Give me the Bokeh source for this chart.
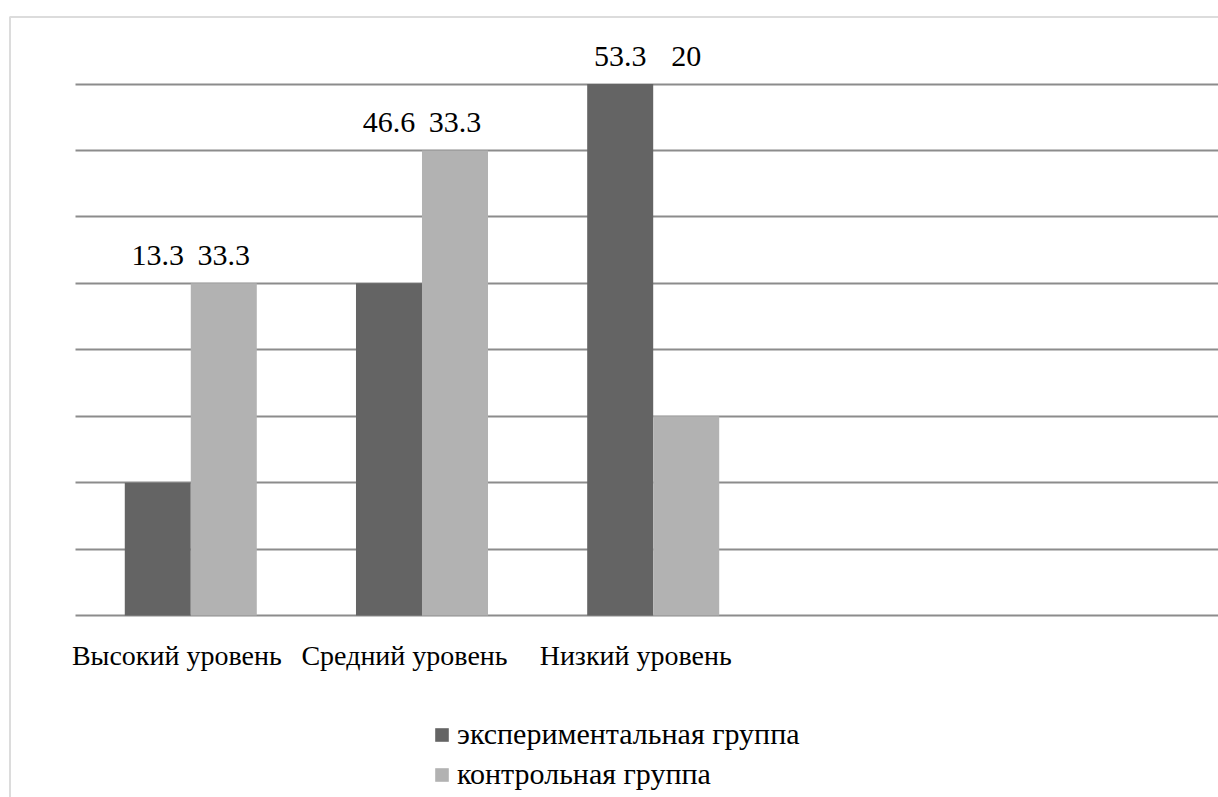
import numpy as np
from bokeh.plotting import figure
from bokeh.models import Range1d, Grid, FixedTicker, Legend, LegendItem, BoxAnnotation, ColumnDataSource
from bokeh.core.properties import value
from bokeh.embed import file_html
from bokeh.resources import INLINE

# ---- data ----
categories = ["Высокий уровень", "Средний  уровень", "Низкий  уровень"]
series_names = ["экспериментальная группа", "контрольная группа"]
exp_values = [13.33, 33.33, 53.33]     # bar heights as drawn (%)
ctrl_values = [33.33, 46.67, 20.0]
exp_labels = ["13.3", "46.6", "53.3"]  # data labels as printed
ctrl_labels = ["33.3", "33.3", "20"]
grid_ticks = [0, 6.67, 13.33, 20, 26.67, 33.33, 40, 46.67, 53.33]

FONT = "Liberation Serif"
DARK = "#646464"
LIGHT = "#b2b2b2"
GRID = "#8c8c8c"

W, H = 1218, 797
X0, X1 = -0.823, 4.445
Y0, Y1 = -18.26, 61.71

p = figure(width=W, height=H, output_backend="svg", toolbar_location=None,
           x_range=Range1d(X0, X1), y_range=Range1d(Y0, Y1),
           x_axis_location=None, y_axis_location=None,
           min_border=0, outline_line_color=None)
p.grid.visible = False

grid = Grid(dimension=1, ticker=FixedTicker(ticks=grid_ticks),
            cross_bounds=(-0.5, X1), grid_line_color=GRID, grid_line_width=2)
p.add_layout(grid, "center")

# outer chart border (top and left visible)
p.add_layout(BoxAnnotation(left=-0.782, top=60.05, right=6, bottom=-30,
                           fill_alpha=0, line_color="#8a8a8a", line_width=2))

xs = np.arange(len(categories))
bw = 0.2855
group_max = [max(a, b) for a, b in zip(exp_values, ctrl_values)]

src_e = ColumnDataSource(dict(x=xs - bw / 2, top=exp_values, lab=exp_labels, ly=group_max))
src_c = ColumnDataSource(dict(x=xs + bw / 2, top=ctrl_values, lab=ctrl_labels, ly=group_max))

r_e = p.vbar(x="x", top="top", bottom=0, width=bw, source=src_e,
             fill_color=DARK, line_color=None)
r_c = p.vbar(x="x", top="top", bottom=0, width=bw, source=src_c,
             fill_color=LIGHT, line_color=None)

for src in (src_e, src_c):
    p.text(x="x", y="ly", text="lab", source=src, text_align="center",
           y_offset=-18, text_font=value(FONT), text_font_size="30px")

p.text(x=xs, y=[0] * len(categories), text=categories, text_align="center",
       y_offset=55, x_offset=-14, text_font=value(FONT), text_font_size="28px")

legend = Legend(items=[LegendItem(label=series_names[0], renderers=[r_e]),
                       LegendItem(label=series_names[1], renderers=[r_c])],
                location=(433, 6), orientation="vertical",
                glyph_width=17, glyph_height=17, label_standoff=7,
                spacing=6, padding=0, margin=0,
                border_line_color=None, background_fill_alpha=0,
                label_text_font="serif", label_text_font_size="30px",
                label_text_color="black")
p.add_layout(legend, "center")

open("out.html", "w").write(file_html(p, INLINE))
